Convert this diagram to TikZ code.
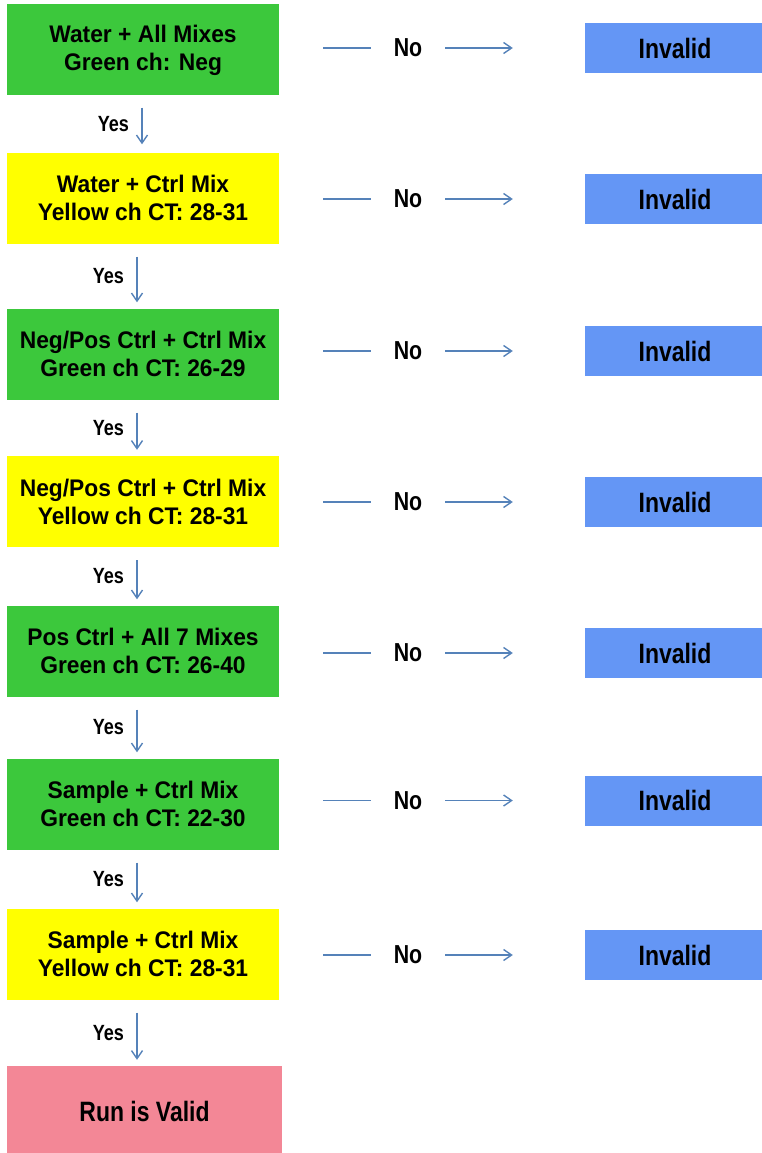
\documentclass[tikz,border=0pt]{standalone}
\usepackage{fontspec}
\setmainfont{Liberation Sans}
\newfontfamily\boxfont{Liberation Sans}[FakeStretch=0.95]
\newfontfamily\slimfont{Liberation Sans}[FakeStretch=0.82]
\usetikzlibrary{arrows.meta}
\definecolor{stepgreen}{RGB}{60,200,60}
\definecolor{stepyellow}{RGB}{255,255,0}
\definecolor{failblue}{RGB}{100,150,245}
\definecolor{passpink}{RGB}{243,135,150}
\definecolor{linkblue}{RGB}{85,130,185}
\tikzset{
  check/.style={minimum width=272pt, minimum height=91pt, inner sep=0pt,
    align=center, font=\boxfont\bfseries\fontsize{24}{28}\selectfont},
  greencheck/.style={check, fill=stepgreen},
  yellowcheck/.style={check, fill=stepyellow},
  failbox/.style={fill=failblue, minimum width=180pt, minimum height=50pt,
    inner sep=0pt, font=\slimfont\bfseries\fontsize{28}{32}\selectfont},
  passbox/.style={fill=passpink, minimum width=275pt, minimum height=90pt,
    inner sep=0pt, font=\slimfont\bfseries\fontsize{28}{32}\selectfont},
  nolabel/.style={inner xsep=23pt, inner ysep=2pt,
    font=\slimfont\bfseries\fontsize{26}{30}\selectfont},
  yeslabel/.style={font=\slimfont\bfseries\fontsize{22}{26}\selectfont},
  link/.style={draw=linkblue, line width=1.4pt},
  linkarrow/.style={link, -{Straight Barb[length=8pt,width=11pt]}},
}
\begin{document}
\begin{tikzpicture}[x=1pt, y=-1pt]
\useasboundingbox (0,0) rectangle (762,1153);

% decision chain
\node[greencheck]  (c1) at (143,50)    {Water + All Mixes\\Green ch: Neg};
\node[yellowcheck] (c2) at (143,198)   {Water + Ctrl Mix\\Yellow ch CT: 28-31};
\node[greencheck]  (c3) at (143,354)   {Neg/Pos Ctrl + Ctrl Mix\\Green ch CT: 26-29};
\node[yellowcheck] (c4) at (143,501.5) {Neg/Pos Ctrl + Ctrl Mix\\Yellow ch CT: 28-31};
\node[greencheck]  (c5) at (143,651)   {Pos Ctrl + All 7 Mixes\\Green ch CT: 26-40};
\node[greencheck]  (c6) at (143,804)   {Sample + Ctrl Mix\\Green ch CT: 22-30};
\node[yellowcheck] (c7) at (143,954)   {Sample + Ctrl Mix\\Yellow ch CT: 28-31};
\node[passbox]     (ok) at (144.5,1111) {Run is Valid};

% failure outcomes
\foreach \i/\y in {1/48,2/199,3/351,4/502,5/653,6/800.5,7/955}{
  \node[failbox] (f\i) at (675,\y) {Invalid};
  \node[nolabel] (n\i) at (408,\y) {No};
  \draw[link, shorten <=44pt] (c\i.east |- n\i) -- (n\i.west);
  \draw[linkarrow, shorten >=72pt] (n\i.east) -- (f\i.west);
}

% "Yes" arrows
\draw[linkarrow, shorten <=12pt, shorten >=8pt]
  ([xshift=-1pt]c1.south) -- node[yeslabel, left=9pt] {Yes} ([xshift=-1pt]c2.north);
\foreach \a/\b in {c2/c3,c3/c4,c4/c5,c5/c6,c6/c7,c7/ok}{
  \draw[linkarrow, shorten <=13pt, shorten >=6pt]
    ([xshift=-6pt]\a.south) -- node[yeslabel, left=9pt] {Yes} ([xshift=-6pt]\a.south |- \b.north);
}
\end{tikzpicture}
\end{document}
